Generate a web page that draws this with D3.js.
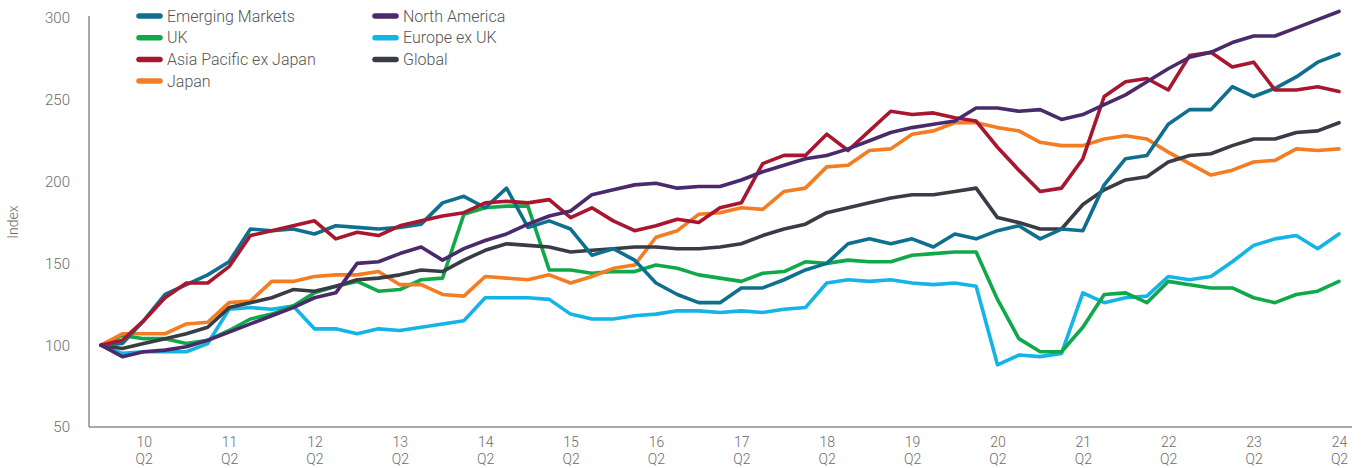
<!DOCTYPE html>
<html><head><meta charset="utf-8">
<script src="https://cdn.jsdelivr.net/npm/d3@7"></script>
<style>body{margin:0;background:#fff;} svg{display:block;}</style>
</head><body><svg id="c" width="1365" height="468"></svg>
<script>
// Quarterly index values, 2009 Q4 .. 2024 Q2 (59 points)
const xTickLabels = ["10","11","12","13","14","15","16","17","18","19","20","21","22","23","24"];
const xTickSub = "Q2";
const yTicks = [50,100,150,200,250,300];

const emergingMarkets = [100,101,115,131,137,143,151,171,170,171,168,173,172,171,172,174,187,191,184,196,172,176,171,155,159,152,138,131,126,126,135,135,140,146,150,162,165,162,165,160,168,165,170,173,165,171,170,198,214,216,235,244,244,258,252,257,264,273,278];
const northAmerica = [100,93,96,97,99,103,108,113,118,123,129,132,150,151,156,160,152,159,164,168,174,179,182,192,195,198,199,196,197,197,201,206,210,214,216,220,225,230,233,235,237,245,245,243,244,238,241,247,253,261,269,276,279,285,289,289,294,299,304];
const uk = [100,106,104,104,101,103,109,116,119,124,132,136,139,133,134,140,141,180,184,185,185,146,146,144,145,145,149,147,143,141,139,144,145,151,150,152,151,151,155,156,157,157,128,104,96,96,111,131,132,126,139,137,135,135,129,126,131,133,139];
const europeExUK = [100,95,96,96,96,101,122,123,122,124,110,110,107,110,109,111,113,115,129,129,129,128,119,116,116,118,119,121,121,120,121,120,122,123,138,140,139,140,138,137,138,136,88,94,93,95,132,126,129,130,142,140,142,151,161,165,167,159,168];
const asiaPacExJapan = [100,103,115,129,138,138,148,167,170,173,176,165,169,167,173,176,179,181,187,188,187,189,178,184,176,170,173,177,175,184,187,211,216,216,229,219,231,243,241,242,239,237,221,207,194,196,214,252,261,263,256,277,279,270,273,256,256,258,255];
const globalIdx = [100,98,101,104,107,111,123,126,129,134,133,136,140,141,143,146,145,152,158,162,161,160,157,158,159,160,160,159,159,160,162,167,171,174,181,184,187,190,192,192,194,196,178,175,171,171,186,195,201,203,212,216,217,222,226,226,230,231,236];
const japan = [100,107,107,107,113,114,126,127,139,139,142,143,143,145,137,137,131,130,142,141,140,143,138,142,147,149,166,170,180,181,184,183,194,196,209,210,219,220,229,231,236,236,233,231,224,222,222,226,228,226,218,211,204,207,212,213,220,219,220];

const seriesNames = ["Emerging Markets","North America","UK","Europe ex UK","Asia Pacific ex Japan","Global","Japan"];
const seriesColors = ["#0f6f8e","#4b2a6b","#10a94a","#14b4e6","#a8172f","#373c45","#f47c22"];
const seriesValues = [emergingMarkets,northAmerica,uk,europeExUK,asiaPacExJapan,globalIdx,japan];
const drawOrder = [3,2,6,5,0,4,1];

const svg = d3.select("#c");
const x = d3.scaleLinear().domain([0,58]).range([101,1339]);
const y = d3.scaleLinear().domain([50,300]).range([427,18]);

const font = "Roboto, 'Liberation Sans', sans-serif";
const textCol = "#6b6b6b";

svg.append("line").attr("x1",89).attr("x2",89).attr("y1",16).attr("y2",427).attr("stroke","#8a8d93").attr("stroke-width",1.5);
svg.append("line").attr("x1",89).attr("x2",1352).attr("y1",427).attr("y2",427).attr("stroke","#8a8d93").attr("stroke-width",1.5);

const yAxis = d3.axisLeft(y).tickValues(yTicks).tickSize(0).tickPadding(0);
const gy = svg.append("g").attr("transform","translate(70,0)").call(yAxis);
gy.select(".domain").remove();
gy.selectAll("text").attr("font-family",font).attr("font-size",15).attr("fill",textCol).attr("font-weight",300);

svg.append("text").attr("transform","translate(18,222) rotate(-90)").attr("text-anchor","middle")
  .attr("font-family",font).attr("font-size",14).attr("font-weight",300).attr("fill",textCol).text("Index");

const xTickIdx = xTickLabels.map((d,i) => 2 + 4*i);
const xAxis = d3.axisBottom(x).tickValues(xTickIdx).tickSize(0).tickFormat(() => "");
const gx = svg.append("g").attr("transform","translate(0,427)").call(xAxis);
gx.select(".domain").remove();
gx.selectAll(".tick").each(function(d,i){
  const g = d3.select(this);
  g.append("text").attr("text-anchor","middle").attr("font-family",font)
    .attr("font-size",14).attr("font-weight",300).attr("fill",textCol).attr("y",20).text(xTickLabels[i]);
  g.append("text").attr("text-anchor","middle").attr("font-family",font)
    .attr("font-size",14).attr("font-weight",300).attr("fill",textCol).attr("y",37).text(xTickSub);
});

const line = d3.line().x((d,i)=>x(i)).y(d=>y(d)).curve(d3.curveLinear);
drawOrder.forEach(k => {
  svg.append("path").datum(seriesValues[k]).attr("d",line).attr("fill","none")
    .attr("stroke",seriesColors[k]).attr("stroke-width",3.6).attr("stroke-linejoin","round").attr("stroke-linecap","round");
});

const legendItems = [
  {k:0,col:0,row:0},{k:1,col:1,row:0},
  {k:2,col:0,row:1},{k:3,col:1,row:1},
  {k:4,col:0,row:2},{k:5,col:1,row:2},
  {k:6,col:0,row:3}
];
const lg = svg.append("g");
legendItems.forEach(it => {
  const lx = it.col === 0 ? 139 : 375;
  const ly = 16 + it.row * 21.7;
  lg.append("line").attr("x1",lx).attr("x2",lx+21).attr("y1",ly).attr("y2",ly)
    .attr("stroke",seriesColors[it.k]).attr("stroke-width",5.5).attr("stroke-linecap","round");
  lg.append("text").attr("x",lx+28).attr("y",ly+5.5).attr("font-family",font).attr("font-size",16)
    .attr("font-weight",300).attr("fill","#555").text(seriesNames[it.k]);
});
</script></body></html>
